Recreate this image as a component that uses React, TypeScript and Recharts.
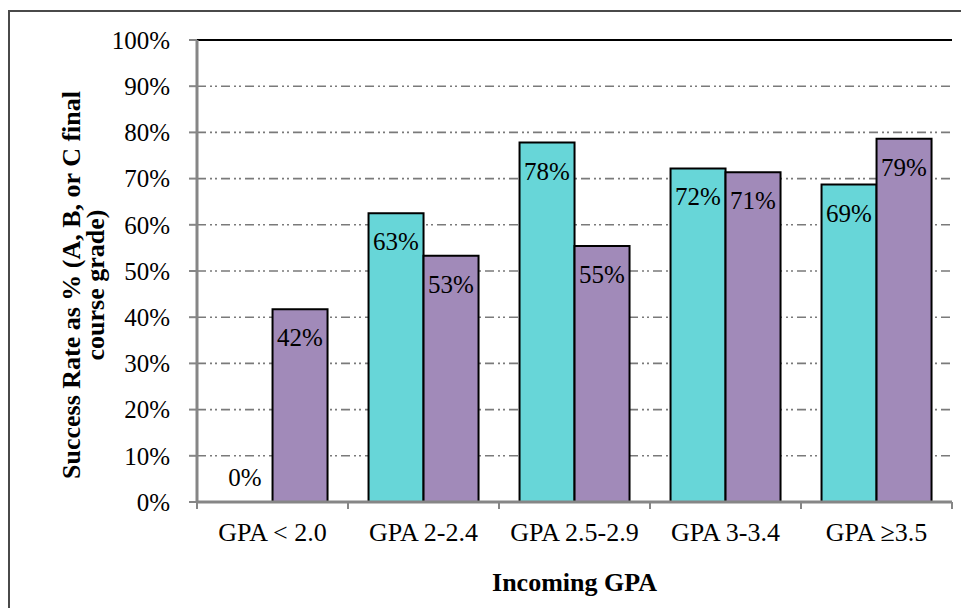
import React from 'react';
import { BarChart, Bar, XAxis, YAxis, CartesianGrid, LabelList, ReferenceLine } from 'recharts';

const categories = ['GPA < 2.0', 'GPA 2-2.4', 'GPA 2.5-2.9', 'GPA 3-3.4', 'GPA \u22653.5'];
const seriesA = [0, 62.5, 77.8, 72.2, 68.7];
const seriesB = [41.7, 53.3, 55.4, 71.4, 78.6];
const yTicks = [0, 10, 20, 30, 40, 50, 60, 70, 80, 90, 100];

const data = categories.map((name, i) => ({ name, a: seriesA[i], b: seriesB[i] }));

const FONT = '"Liberation Serif", "Times New Roman", serif';
const AXIS = '#868686';
const CYAN = '#67D6D8';
const PURPLE = '#A18AB9';

const pct = (v: number) => `${Math.round(v)}%`;

const XTick = (props: any) => {
  const { x, y, payload, index, visibleTicksCount } = props;
  const half = payload?.offset ?? 75.5;
  const axisY = y - 21;
  return (
    <g>
      <line x1={x - half} x2={x - half} y1={axisY} y2={axisY + 7} stroke={AXIS} strokeWidth={2} />
      {index === visibleTicksCount - 1 && (
        <line x1={x + half} x2={x + half} y1={axisY} y2={axisY + 7} stroke={AXIS} strokeWidth={2} />
      )}
      <text x={x} y={y} dy="0.71em" textAnchor="middle" fontFamily={FONT} fontSize={26} fill="#000">
        {payload.value}
      </text>
    </g>
  );
};

const valueText = (cx: number, baseY: number, v: number, key?: string) => (
  <text key={key} x={cx} y={baseY} textAnchor="middle" fontFamily={FONT} fontSize={25} fill="#000">
    {pct(v)}
  </text>
);

// zero-height bars get no label of their own, so the neighbouring bar draws it
const ValueA = (props: any) => {
  const { x, y, width, value } = props;
  if (!value) return null;
  return valueText(x + width / 2, y + 37, value);
};

const ValueB = (props: any) => {
  const { x, y, width, height, value, index } = props;
  const base = y + height;
  return (
    <g>
      {valueText(x + width / 2, y + 37, value, 'b')}
      {seriesA[index] === 0 && valueText(x - width / 2, base - 16, seriesA[index], 'a')}
    </g>
  );
};

const YTitle = () => (
  <g transform="translate(72, 277) rotate(-90)">
    <text textAnchor="middle" fontFamily={FONT} fontSize={26} fontWeight="bold" fill="#000">
      <tspan x={0} y={0}>Success Rate as % (A, B, or C final</tspan>
      <tspan x={0} y={24}>course grade)</tspan>
    </text>
  </g>
);

const XTitle = () => (
  <text x={566.5} y={582.5} textAnchor="middle" fontFamily={FONT} fontSize={26} fontWeight="bold" fill="#000">
    Incoming GPA
  </text>
);

export default function App() {
  return (
    <div style={{ position: 'relative', width: 961, height: 600, overflow: 'hidden', background: '#fff' }}>
      <div style={{ position: 'absolute', left: 0, top: 2, width: 1100, height: 800, border: '2px solid #4a4a4a', boxSizing: 'border-box' }} />
      <div style={{ position: 'absolute', left: 0, top: 0 }}>
        <BarChart width={961} height={600} data={data} margin={{ top: 32, right: 17, bottom: 0, left: 0 }}
          barCategoryGap="13.6%" barGap={0}>
          <CartesianGrid vertical={false} stroke="#7a7a7a" strokeWidth={1.6} strokeDasharray="9 4 2 3 2 4" />
          <Bar dataKey="a" name="Series A" fill={CYAN} stroke="#000" strokeWidth={2} isAnimationActive={false}>
            <LabelList dataKey="a" content={<ValueA />} />
          </Bar>
          <Bar dataKey="b" name="Series B" fill={PURPLE} stroke="#000" strokeWidth={2} isAnimationActive={false}>
            <LabelList dataKey="b" content={<ValueB />} />
          </Bar>
          <ReferenceLine y={100} stroke="#000" strokeWidth={2} ifOverflow="visible" />
          <XAxis dataKey="name" height={106} tickLine={false} tickSize={7} tickMargin={14}
            axisLine={{ stroke: AXIS, strokeWidth: 3 }} tick={<XTick />} interval={0} label={<XTitle />} />
          <YAxis width={189} domain={[0, 100]} ticks={yTicks} tickFormatter={(v: number) => `${v}%`} interval={0}
            tickSize={8} tickMargin={19} axisLine={{ stroke: AXIS, strokeWidth: 3 }}
            tickLine={{ stroke: AXIS, strokeWidth: 2 }}
            tick={{ fontFamily: FONT, fontSize: 25, fill: '#000' }} label={<YTitle />} />
          <YAxis yAxisId="right" orientation="right" width={0} domain={[0, 100]} tick={false} tickLine={false}
            axisLine={{ stroke: '#000', strokeWidth: 2 }} />
        </BarChart>
      </div>
    </div>
  );
}
